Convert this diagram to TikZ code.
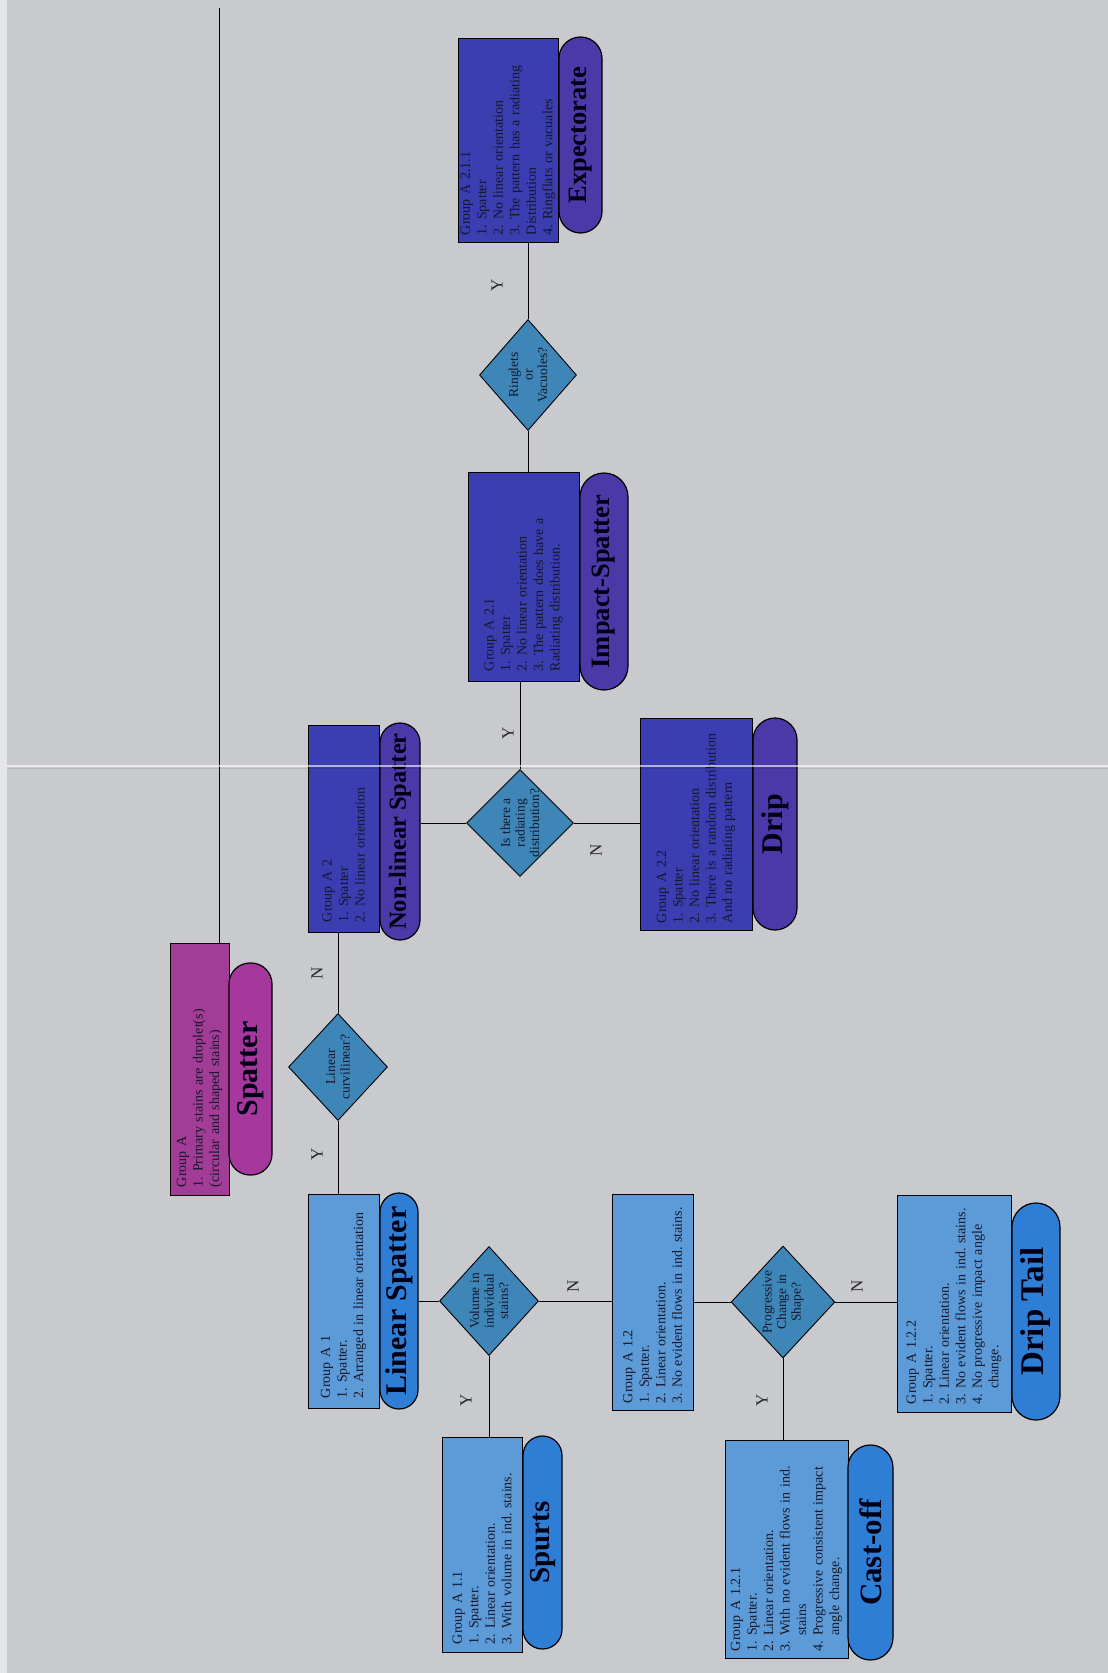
\documentclass[tikz,border=0pt]{standalone}
\usepackage{fontspec}
\setmainfont{Liberation Serif}
\usetikzlibrary{shapes.geometric}
\frenchspacing
\definecolor{bg}{HTML}{C8CACD}
\definecolor{edge}{HTML}{E4E6E8}
\definecolor{magbox}{HTML}{A33C96}
\definecolor{magoval}{HTML}{A6379C}
\definecolor{lbox}{HTML}{5C9BD7}
\definecolor{loval}{HTML}{2F7ED5}
\definecolor{dia}{HTML}{3E85B8}
\definecolor{dbox}{HTML}{3A3EB0}
\definecolor{doval}{HTML}{4B39A8}
\definecolor{txt}{HTML}{15172A}
\tikzset{
  gbox/.style={draw=black, line width=0.9pt, rotate=90, align=left, inner xsep=8pt, inner ysep=0pt,
    text=txt, font=\fontsize{14}{16.5}\selectfont},
  oval/.style={draw=black, line width=1.2pt, rotate=90, inner sep=0pt, text=black!92!blue},
  dec/.style={diamond, draw=black, line width=0.9pt, fill=dia, rotate=90, inner sep=0pt, align=center,
    text=txt, font=\fontsize{13.5}{14.5}\selectfont},
  yn/.style={rotate=90, font=\fontsize{17}{17}\selectfont, text=black!85},
  conn/.style={draw=black, line width=0.9pt}
}
\begin{document}
\begin{tikzpicture}[x=1pt,y=-1pt]
\fill[bg] (0,0) rectangle (1108,1673);
\fill[edge] (0,0) rectangle (7,1673);
\useasboundingbox (0,0) rectangle (1108,1673);

% Group A
\node[gbox, fill=magbox, minimum width=252pt, minimum height=59pt, text width=236pt] (ga) at (199.5,1069)
  {Group A\\1. Primary stains are droplet(s)\\(circular and shaped stains)};
\node[oval, fill=magoval, minimum width=212pt, minimum height=43pt, rounded corners=21pt,
  font=\fontsize{30}{30}\bfseries] (gao) at (250.5,1069) {Spatter};

% Linear branch
\node[dec, minimum width=107pt, minimum height=99pt] (d1) at (338,1067) {Linear\\curvilinear?};
\node[gbox, fill=lbox, minimum width=214pt, minimum height=71pt, text width=194pt, inner xsep=10pt] (a1) at (343.5,1301)
  {Group A 1\\1. Spatter.\\2. Arranged in linear orientation};
\node[oval, fill=loval, minimum width=216pt, minimum height=38pt, rounded corners=19pt,
  font=\fontsize{30}{30}\bfseries] (a1o) at (399,1301) {Linear Spatter};
\node[dec, minimum width=109pt, minimum height=99pt] (d2) at (489,1301) {Volume in\\individual\\stains?};
\node[gbox, fill=lbox, minimum width=215pt, minimum height=80pt, text width=199pt] (a11) at (482,1544.5)
  {Group A 1.1\\1. Spatter.\\2. Linear orientation.\\3. With volume in ind. stains.};
\node[oval, fill=loval, minimum width=213pt, minimum height=39pt, rounded corners=19.5pt,
  font=\fontsize{29}{29}\bfseries] (a11o) at (542.5,1542.5) {Spurts};
\node[gbox, fill=lbox, minimum width=216pt, minimum height=81pt, text width=202pt, inner xsep=7pt] (a12) at (652.5,1302)
  {Group A 1.2\\1. Spatter.\\2. Linear orientation.\\3. No evident flows in ind. stains.};
\node[dec, minimum width=112pt, minimum height=102pt] (d3) at (783,1302) {Progressive\\Change in\\Shape?};
\node[gbox, fill=lbox, minimum width=218pt, minimum height=123pt, text width=204pt, inner xsep=7pt] (a121) at (786.5,1549)
  {Group A 1.2.1\\1. Spatter.\\2. Linear orientation.\\3. With no evident flows in ind.\\\hspace*{1.1em}stains\\4. Progressive consistent impact\\\hspace*{1.1em}angle change.};
\node[oval, fill=loval, minimum width=215pt, minimum height=45pt, rounded corners=22.5pt,
  font=\fontsize{31}{31}\bfseries] (a121o) at (870.5,1552.5) {Cast-off};
\node[gbox, fill=lbox, minimum width=217pt, minimum height=114pt, text width=201pt] (a122) at (954,1303.5)
  {Group A 1.2.2\\1. Spatter.\\2. Linear orientation.\\3. No evident flows in ind. stains.\\4. No progressive impact angle\\\hspace*{1.1em}change.};
\node[oval, fill=loval, minimum width=217pt, minimum height=48pt, rounded corners=24pt,
  font=\fontsize{33}{33}\bfseries] (a122o) at (1036,1311.5) {Drip Tail};

% Non-linear branch
\node[gbox, fill=dbox, minimum width=207pt, minimum height=71pt, text width=187pt, inner xsep=10pt] (a2) at (343.5,828.5)
  {Group A 2\\1. Spatter\\2. No linear orientation};
\node[oval, fill=doval, minimum width=217pt, minimum height=40pt, rounded corners=20pt,
  font=\fontsize{24.5}{24.5}\bfseries] (a2o) at (400,831.5) {Non-linear Spatter};
\node[dec, minimum width=106pt, minimum height=98pt] (d4) at (520,823) {Is there a\\radiating\\distribution?};
\node[gbox, fill=dbox, minimum width=209pt, minimum height=111pt, text width=189pt, inner xsep=10pt] (a21) at (523.5,576.5)
  {Group A 2.1\\1. Spatter\\2. No linear orientation\\3. The pattern does have a\\Radiating distribution.};
\node[oval, fill=doval, minimum width=217pt, minimum height=48pt, rounded corners=24pt,
  font=\fontsize{26.5}{26.5}\bfseries] (a21o) at (604,581.5) {Impact-Spatter};
\node[gbox, fill=dbox, minimum width=212pt, minimum height=112pt, text width=198pt, inner xsep=7pt] (a22) at (696,824)
  {Group A 2.2\\1. Spatter\\2. No linear orientation\\3. There is a random distribution\\And no radiating pattern};
\node[oval, fill=doval, minimum width=212pt, minimum height=44pt, rounded corners=22pt,
  font=\fontsize{30}{30}\bfseries] (a22o) at (775,824) {Drip};
\node[dec, minimum width=111pt, minimum height=97pt] (d5) at (528,375) {Ringlets\\or\\Vacuoles?};
\node[gbox, fill=dbox, minimum width=204pt, minimum height=100pt, text width=190pt, inner xsep=7pt] (a211) at (508,140)
  {Group A 2.1.1\\1. Spatter\\2. No linear orientation\\3. The pattern has a radiating\\Distribution\\4. Ringflats or vacuales};
\node[oval, fill=doval, minimum width=196pt, minimum height=43pt, rounded corners=21.5pt,
  font=\fontsize{26.5}{26.5}\bfseries] (a211o) at (580.5,135) {Expectorate};

% connectors (rotated nodes: east=page top, west=page bottom, north=page left, south=page right)
\coordinate (top) at (219,8);
\draw[conn] (top) -- (top |- ga.east);
\draw[conn] (d1.east) -- (d1.east |- a2.west);
\draw[conn] (d1.west) -- (d1.west |- a1.east);
\draw[conn] (a1o.south) -- (d2.north);
\draw[conn] (d2.west) -- (d2.west |- a11.east);
\draw[conn] (d2.south) -- (d2.south -| a12.north);
\draw[conn] (d3.north -| a12.south) -- (d3.north);
\draw[conn] (d3.west) -- (d3.west |- a121.east);
\draw[conn] (d3.south) -- (d3.south -| a122.north);
\draw[conn] (d4.north -| a2o.south) -- (d4.north);
\draw[conn] (d4.east) -- (d4.east |- a21.west);
\draw[conn] (d4.south) -- (d4.south -| a22.north);
\draw[conn] (d5.west) -- (d5.west |- a21.east);
\draw[conn] (d5.east) -- (d5.east |- a211.west);

% Y / N labels
\node[yn] (n1) at (317,973) {N};
\node[yn] (y1) at (317,1154) {Y};
\node[yn] (y2) at (466,1400) {Y};
\node[yn] (n2) at (573,1286) {N};
\node[yn] (y3) at (762,1400) {Y};
\node[yn] (n3) at (857,1286) {N};
\node[yn] (y4) at (508,733) {Y};
\node[yn] (n4) at (596,850) {N};
\node[yn] (y5) at (497,285) {Y};

% page fold
\draw[white, opacity=0.6, line width=2pt] (7,765.5) -- (1108,765.5);
\draw[black, opacity=0.1, line width=1.5pt] (7,768.5) -- (1108,768.5);
\end{tikzpicture}
\end{document}
